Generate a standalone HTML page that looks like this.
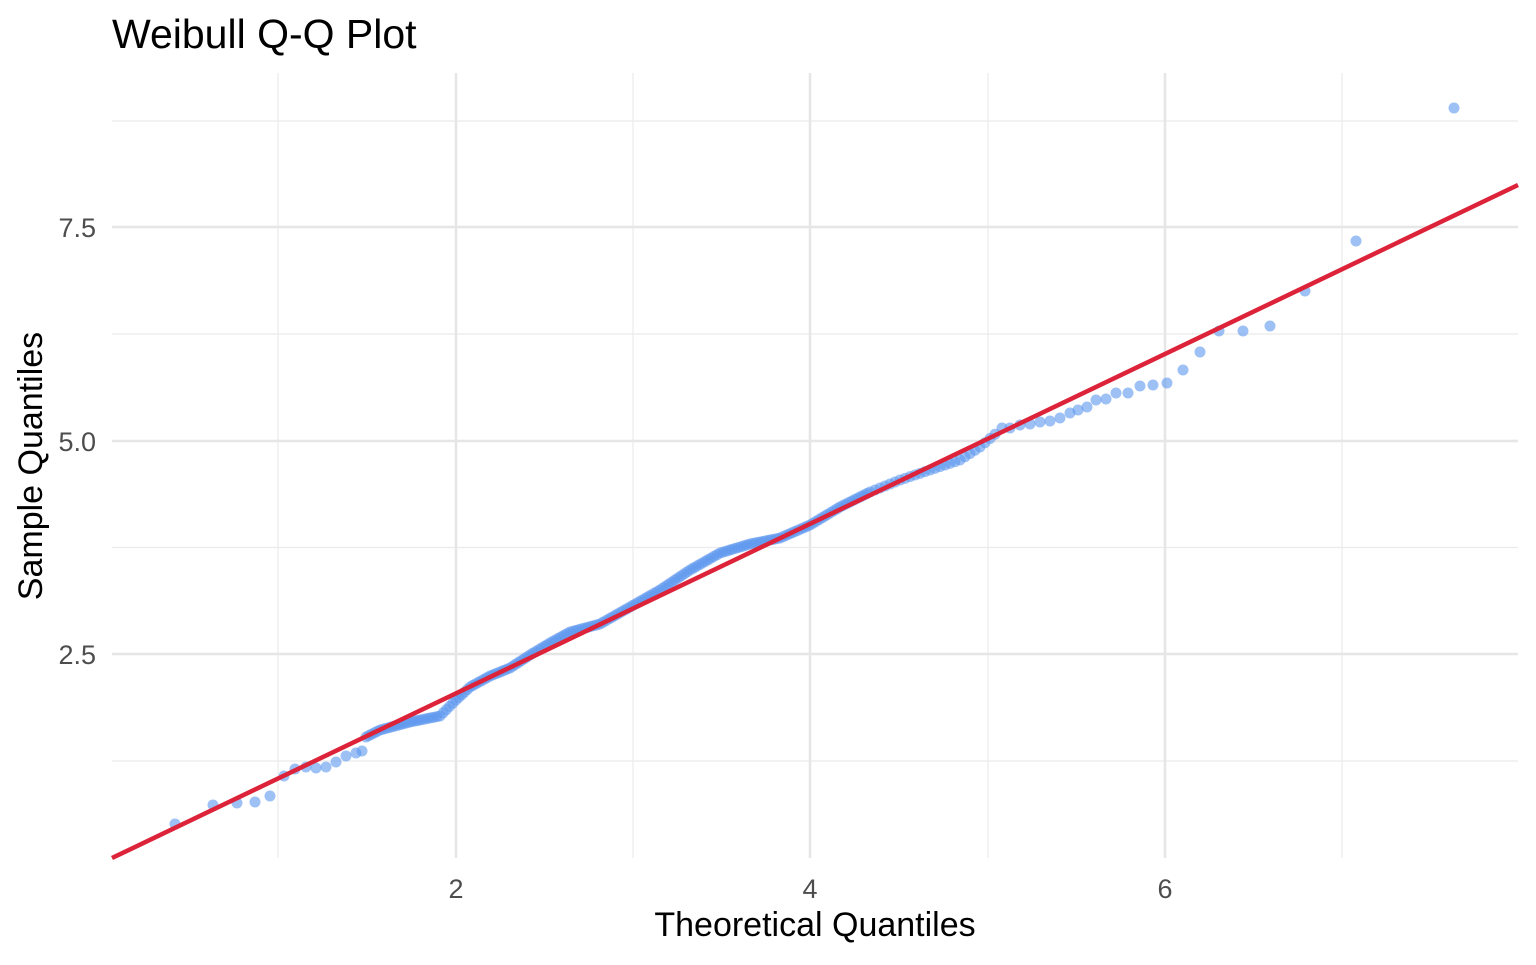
<!DOCTYPE html>
<html><head><meta charset="utf-8"><style>
html,body{margin:0;padding:0;background:#fff;}
svg text{font-family:"Liberation Sans",Arial,sans-serif;}
</style></head><body>
<svg id="s" width="1536" height="960" xmlns="http://www.w3.org/2000/svg">
<rect width="1536" height="960" fill="#fff"/>
<g stroke="#ebebeb" stroke-width="1.2">
<line x1="112" x2="1518" y1="121" y2="121"/><line x1="112" x2="1518" y1="334" y2="334"/>
<line x1="112" x2="1518" y1="547.5" y2="547.5"/><line x1="112" x2="1518" y1="761" y2="761"/>
<line y1="73" y2="858" x1="278" x2="278"/><line y1="73" y2="858" x1="633" x2="633"/>
<line y1="73" y2="858" x1="988" x2="988"/><line y1="73" y2="858" x1="1342" x2="1342"/>
</g>
<g stroke="#e6e6e6" stroke-width="2.5">
<line x1="112" x2="1518" y1="227" y2="227"/><line x1="112" x2="1518" y1="441" y2="441"/><line x1="112" x2="1518" y1="654" y2="654"/>
<line y1="73" y2="858" x1="456" x2="456"/><line y1="73" y2="858" x1="810" x2="810"/><line y1="73" y2="858" x1="1165" x2="1165"/>
</g>
<g id="pts" fill="#5b96ee" fill-opacity="0.6"></g>
<line x1="112" y1="858" x2="1518" y2="185" stroke="#dc2339" stroke-width="4.5"/>
<g font-size="27" fill="#4d4d4d" text-anchor="end">
<text x="96" y="237">7.5</text><text x="96" y="451">5.0</text><text x="96" y="664">2.5</text>
</g>
<g font-size="27" fill="#4d4d4d" text-anchor="middle">
<text x="456" y="898">2</text><text x="810" y="898">4</text><text x="1165" y="898">6</text>
</g>
<text x="815" y="936" font-size="34" text-anchor="middle" fill="#000">Theoretical Quantiles</text>
<text transform="translate(42,466) rotate(-90)" font-size="34" text-anchor="middle" fill="#000">Sample Quantiles</text>
<text x="112" y="48" font-size="41" fill="#000">Weibull Q-Q Plot</text>
</svg>
<script>
var g=document.getElementById('pts'),ns="http://www.w3.org/2000/svg";
function c(x,y){var e=document.createElementNS(ns,'circle');e.setAttribute('cx',x);e.setAttribute('cy',y);e.setAttribute('r',5.5);g.appendChild(e);}
[[175,824],[213,805],[237,803],[255,802],[270,796],[284,776],[295,769],[306,767],[316,768],[326,767],[336,762],[346,756],[356,753],[362,751]].forEach(function(p){c(p[0],p[1]);});
var k=[[366,737],[380,730],[410,722],[440,716],[456,700],[470,687],[490,676],[510,668],[530,655],[550,643],[570,632],[600,624],[630,607],[660,590],[690,570],[720,553],[750,544],[780,538],[810,525],[840,507],[870,492],[900,480],[930,470],[960,460],[980,447],[1000,430]];
for(var i=0;i<k.length-1;i++){var a=k[i],b=k[i+1],n=Math.max(1,Math.round((b[0]-a[0])/(i<20?3:5)));for(var j=0;j<n;j++){var t=j/n;c(a[0]+(b[0]-a[0])*t,a[1]+(b[1]-a[1])*t);}}
[[1002,428],[1010,428],[1020,425],[1030,424],[1040,422],[1050,421],[1060,418],[1070,413],[1078,410],[1087,407],[1096,400],[1106,399],[1116,393],[1128,393],[1140,386],[1153,385],[1167,383],[1183,370],[1200,352],[1219,331],[1243,331],[1270,326],[1305,291],[1356,241],[1454,108]].forEach(function(p){c(p[0],p[1]);});
</script>
</body></html>
